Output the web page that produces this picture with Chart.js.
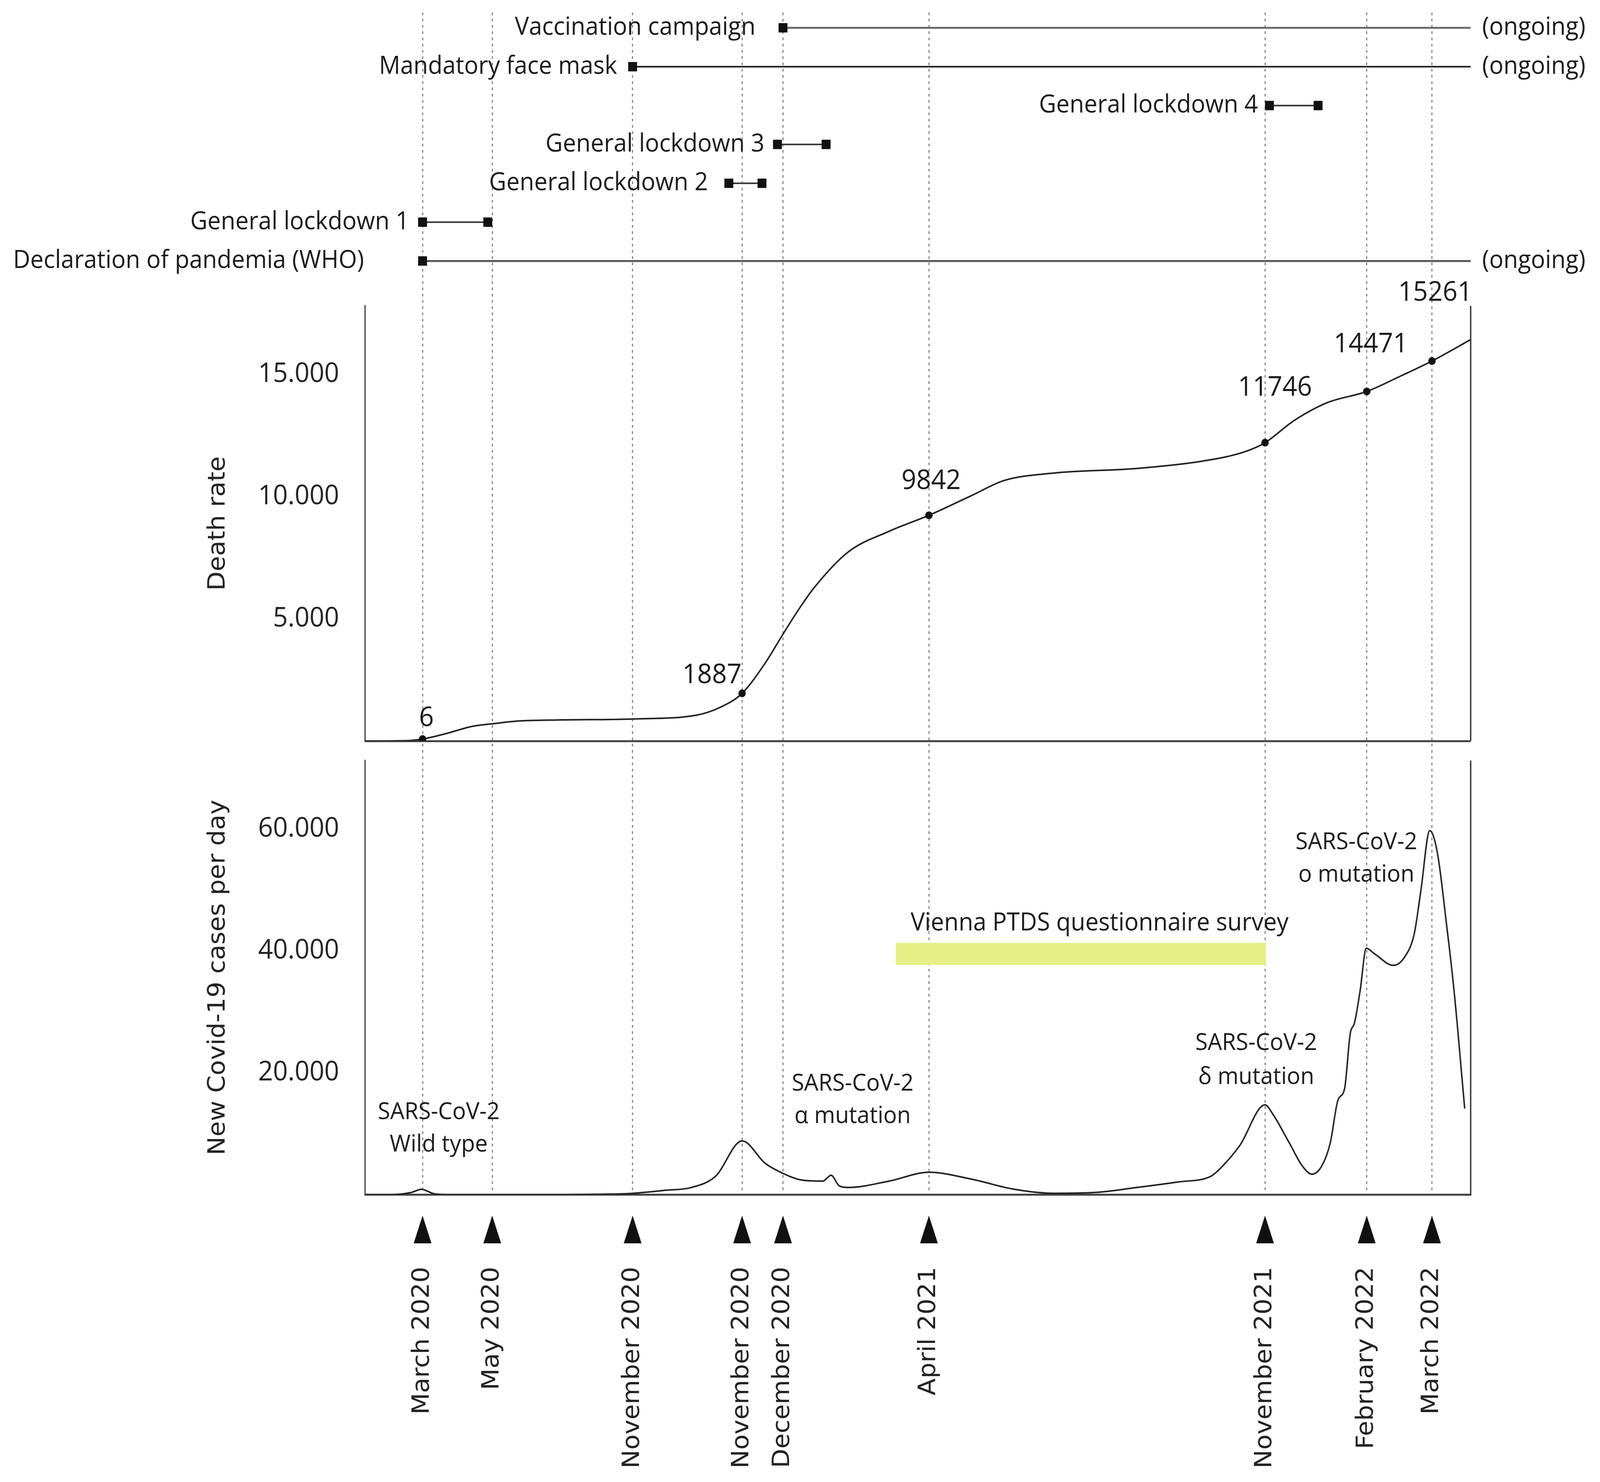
<!DOCTYPE html>
<html><head><meta charset="utf-8">
<script src="https://cdn.jsdelivr.net/npm/chart.js"></script>
<style>html,body{margin:0;padding:0;background:#fff;overflow:hidden}canvas{display:block!important;width:100vw!important;height:100vh!important}</style>
</head><body>
<canvas id="c" width="4317" height="3794"></canvas>
<script>
// ================= DATA =================
// schematic time axis (0 = left edge, 1000 = right edge of the plots)
const monthLabels = ['March 2020','May 2020','November 2020','November 2020','December 2020','April 2021','November 2021','February 2022','March 2022'];
const monthPos    = [52, 115, 242, 341, 378, 510, 814, 906, 965];

// cumulative deaths (curve)
const deathX = [0, 36, 52, 73, 97, 115, 138, 174, 242, 300, 321, 341, 362, 377, 391, 406, 437, 474, 510, 549, 578, 623, 698, 758, 795, 814, 840, 870, 906, 937, 965, 1000];
const deathY = [0, 10, 80, 300, 600, 703, 815, 860, 900, 1060, 1374, 1949, 3195, 4297, 5300, 6262, 7732, 8579, 9233, 10049, 10656, 10960, 11150, 11454, 11821, 12204, 13099, 13834, 14297, 14936, 15543, 16420];
const deathMarkX = [52, 341, 510, 814, 906, 965];
const deathMarkY = [80, 1949, 9233, 12204, 14297, 15543];
const deathMarkText  = ['6', '1887', '9842', '11746', '14471', '15261'];
const deathMarkTextX = [55.5, 313.8, 512, 823, 909.7, 968];
const deathMarkTextY = [927, 2684, 10623, 14441, 16214, 18323];
const deathTicks = [0, 5000, 10000, 15000];
const deathMax = 17800;

// new cases per day
const casesX = [0, 25, 41, 51, 63, 78, 150, 230, 242, 272, 295, 317, 341, 362, 377, 395, 414, 421.5, 429, 437, 474, 510, 549, 586, 623, 660, 698, 735, 765, 776, 791, 814, 821, 836, 847.5, 856.5, 865.5, 873, 880, 886, 891, 895, 900, 905.6, 913, 930, 940, 949, 955, 963, 970, 977.6, 985, 994.6];
const casesY = [0, 0, 300, 850, 100, 0, 0, 100, 200, 700, 1150, 3000, 8800, 5100, 3550, 2370, 2200, 3150, 1400, 1150, 2200, 3650, 2500, 900, 200, 330, 1150, 2050, 3000, 4740, 8000, 14700, 13200, 8460, 4740, 3330, 4740, 8460, 15500, 17400, 26300, 28200, 33400, 40400, 39500, 37600, 38900, 42800, 49900, 59700, 55960, 45200, 33400, 14100];
const casesTicks = [0, 20000, 40000, 60000];
const casesMax = 71200;

// survey period band
const surveyLabel = 'Vienna PTDS questionnaire survey';
const surveyX = [480, 815];
const surveyLow = 37690;
const surveyHigh = 41280;
const surveyLabelX = 664.4;
const surveyLabelY = 44490;

// variant notes
const variantLine1 = ['SARS-CoV-2', 'SARS-CoV-2', 'SARS-CoV-2', 'SARS-CoV-2'];
const variantLine2 = ['Wild type', 'α mutation', 'δ mutation', 'ο mutation'];
const variantX  = [66.6, 441, 806, 896.6];
const variantY1 = [13460, 18140, 24800, 57760];
const variantY2 = [8140, 12820, 19230, 52440];

// timeline of measures (row 0 = bottom)
const eventNames = ['Declaration of pandemia (WHO)', 'General lockdown 1', 'General lockdown 2', 'General lockdown 3', 'General lockdown 4', 'Mandatory face mask', 'Vaccination campaign'];
const eventStart = [52, 52, 329, 373, 818, 242, 378];
const eventEnd   = [null, 111, 359, 417, 862, null, null]; // null = ongoing
const ongoingText = '(ongoing)';

const deathTitle = 'Death rate';
const casesTitle = 'New Covid-19 cases per day';

// ================= LAYOUT / STYLE =================
const S = {
  pad: {left: 500, right: 349, top: 32, bottom: 32},
  yAxisWidth: 485,
  xAxisHeight: 704,
  stack: {yT: 751, yD: 1114, yG: 50, yC: 1111},
  rowRange: [-1.154, 6.394],
  eventLabelGap: [158, 36, 56, 35, 31, 42, 74],
  eventColor: ['#555', '#333', '#333', '#333', '#333', '#1a1a1a', '#6a6a6a'],
  eventWidth: [5, 4, 4, 4, 4, 4, 5],
  text: '#1a1a1a',
  sans: 'Open Sans',
  wide: 'DejaVu Sans'
};

const fmt = v => String(v).replace(/\B(?=(\d{3})+(?!\d))/g, '.');
const pts = (xs, ys) => xs.map((x, i) => ({x, y: ys[i]}));
const noPad = s => { s.paddingTop = 0; s.paddingBottom = 0; s.paddingLeft = 0; s.paddingRight = 0; };

function txt(ctx, s, x, y, size, align, family) {
  ctx.save();
  ctx.font = size + 'px "' + (family || S.sans) + '"';
  ctx.fillStyle = S.text;
  ctx.textAlign = align || 'center';
  ctx.textBaseline = 'middle';
  ctx.fillText(s, x, y);
  ctx.restore();
}

const overlay = {
  id: 'overlay',
  afterDraw(chart) {
    const {ctx, chartArea: ca} = chart;
    const {x, yT, yD, yC} = chart.scales;
    ctx.save();
    ctx.strokeStyle = '#444'; ctx.lineWidth = 4;
    [yD, yC].forEach(s => { ctx.beginPath(); ctx.moveTo(ca.right, s.top); ctx.lineTo(ca.right, s.bottom); ctx.stroke(); });
    ctx.restore();
    ctx.save(); ctx.fillStyle = '#111';
    monthPos.forEach(v => {
      const px = x.getPixelForValue(v);
      ctx.beginPath();
      ctx.moveTo(px, x.top + 54); ctx.lineTo(px + 24, x.top + 125); ctx.lineTo(px - 24, x.top + 125);
      ctx.closePath(); ctx.fill();
    });
    ctx.restore();
    eventNames.forEach((name, i) => {
      const py = yT.getPixelForValue(i);
      txt(ctx, name, x.getPixelForValue(eventStart[i]) - S.eventLabelGap[i], py, 64, 'right');
      if (eventEnd[i] === null) txt(ctx, ongoingText, x.getPixelForValue(x.max) + 31, py, 64, 'left');
    });
    deathMarkText.forEach((t, i) => txt(ctx, t, x.getPixelForValue(deathMarkTextX[i]), yD.getPixelForValue(deathMarkTextY[i]), 70));
    variantX.forEach((vx, i) => {
      const px = x.getPixelForValue(vx);
      txt(ctx, variantLine1[i], px, yC.getPixelForValue(variantY1[i]), 61);
      txt(ctx, variantLine2[i], px, yC.getPixelForValue(variantY2[i]), 61);
    });
    txt(ctx, surveyLabel, x.getPixelForValue(surveyLabelX), yC.getPixelForValue(surveyLabelY), 64);
  }
};

const datasets = [
  {data: pts(deathMarkX, deathMarkY), yAxisID: 'yD', showLine: false, pointRadius: 10, pointBackgroundColor: '#111', pointBorderWidth: 0},
  {data: pts(deathX, deathY), yAxisID: 'yD', borderColor: '#222', borderWidth: 4, pointRadius: 0, cubicInterpolationMode: 'monotone'},
  {data: pts(casesX, casesY), yAxisID: 'yC', borderColor: '#222', borderWidth: 4, pointRadius: 0, cubicInterpolationMode: 'monotone'},
  {data: pts(surveyX, [surveyLow, surveyLow]), yAxisID: 'yC', borderWidth: 0, pointRadius: 0, fill: false},
  {data: pts(surveyX, [surveyHigh, surveyHigh]), yAxisID: 'yC', borderWidth: 0, pointRadius: 0, fill: '-1', backgroundColor: '#e6ee86'}
];
eventNames.forEach((n, i) => {
  const end = eventEnd[i] === null ? 1000 : eventEnd[i];
  datasets.push({
    data: [{x: eventStart[i], y: i}, {x: end, y: i}], yAxisID: 'yT',
    borderColor: S.eventColor[i], borderWidth: S.eventWidth[i],
    pointStyle: 'rect', pointRadius: [17, eventEnd[i] === null ? 0 : 17],
    pointBackgroundColor: '#111', pointBorderWidth: 0
  });
});

const hiddenAxis = (weight, stackWeight, min, max) => ({
  type: 'linear', position: 'left', stack: 'main', stackWeight, weight, min, max,
  afterFit: noPad,
  ticks: {display: false}, grid: {display: false, drawTicks: false}, border: {display: false}
});

function build() {
  Chart.defaults.font.family = S.sans;
  Chart.defaults.color = '#222';
  new Chart(document.getElementById('c'), {
    type: 'line',
    data: {datasets},
    options: {
      responsive: false, animation: false, devicePixelRatio: 1, events: [],
      layout: {padding: S.pad},
      plugins: {legend: {display: false}, tooltip: {enabled: false}},
      scales: {
        x: {
          type: 'linear', position: 'bottom', min: 0, max: 1000,
          afterBuildTicks: s => { s.ticks = monthPos.map(v => ({value: v})); },
          afterFit: s => { s.height = S.xAxisHeight; noPad(s); },
          ticks: {autoSkip: false, minRotation: 90, maxRotation: 90, padding: 185,
                  font: {family: S.wide, size: 64}, color: '#222',
                  callback: (v, i) => monthLabels[i]},
          grid: {display: true, drawTicks: false, color: '#808080', lineWidth: 3},
          border: {display: true, color: '#444', width: 5, dash: [7, 9]}
        },
        yT: hiddenAxis(4, S.stack.yT, S.rowRange[0], S.rowRange[1]),
        yD: {
          type: 'linear', position: 'left', stack: 'main', stackWeight: S.stack.yD, weight: 3,
          min: 0, max: deathMax,
          afterBuildTicks: s => { s.ticks = deathTicks.map(v => ({value: v})); },
          afterFit: s => { s.width = S.yAxisWidth; noPad(s); },
          ticks: {padding: 70, font: {size: 70, lineHeight: 1}, color: '#222', callback: v => v === 0 ? '' : fmt(v)},
          grid: {display: true, drawTicks: false, lineWidth: 5,
                 color: c => (c.tick && c.tick.value === 0) ? '#444' : 'rgba(0,0,0,0)'},
          border: {display: true, color: '#555', width: 4},
          title: {display: true, text: deathTitle, font: {family: S.wide, size: 64}, color: '#222', padding: {top: 51, bottom: 0}}
        },
        yG: hiddenAxis(2, S.stack.yG, 0, 1),
        yC: {
          type: 'linear', position: 'left', stack: 'main', stackWeight: S.stack.yC, weight: 1,
          min: 0, max: casesMax,
          afterBuildTicks: s => { s.ticks = casesTicks.map(v => ({value: v})); },
          afterFit: s => { s.width = S.yAxisWidth; noPad(s); },
          ticks: {padding: 70, font: {size: 70, lineHeight: 1}, color: '#222', callback: v => v === 0 ? '' : fmt(v)},
          grid: {display: false, drawTicks: false},
          border: {display: true, color: '#555', width: 4},
          title: {display: true, text: casesTitle, font: {family: S.wide, size: 64}, color: '#222', padding: {top: 51, bottom: 0}}
        }
      }
    },
    plugins: [overlay]
  });
}

const fl = document.fonts ? Promise.all([
  document.fonts.load('64px "Open Sans"'),
  document.fonts.load('64px "DejaVu Sans"')
]).catch(() => {}) : Promise.resolve();
fl.then(build, build);
</script>
</body></html>
